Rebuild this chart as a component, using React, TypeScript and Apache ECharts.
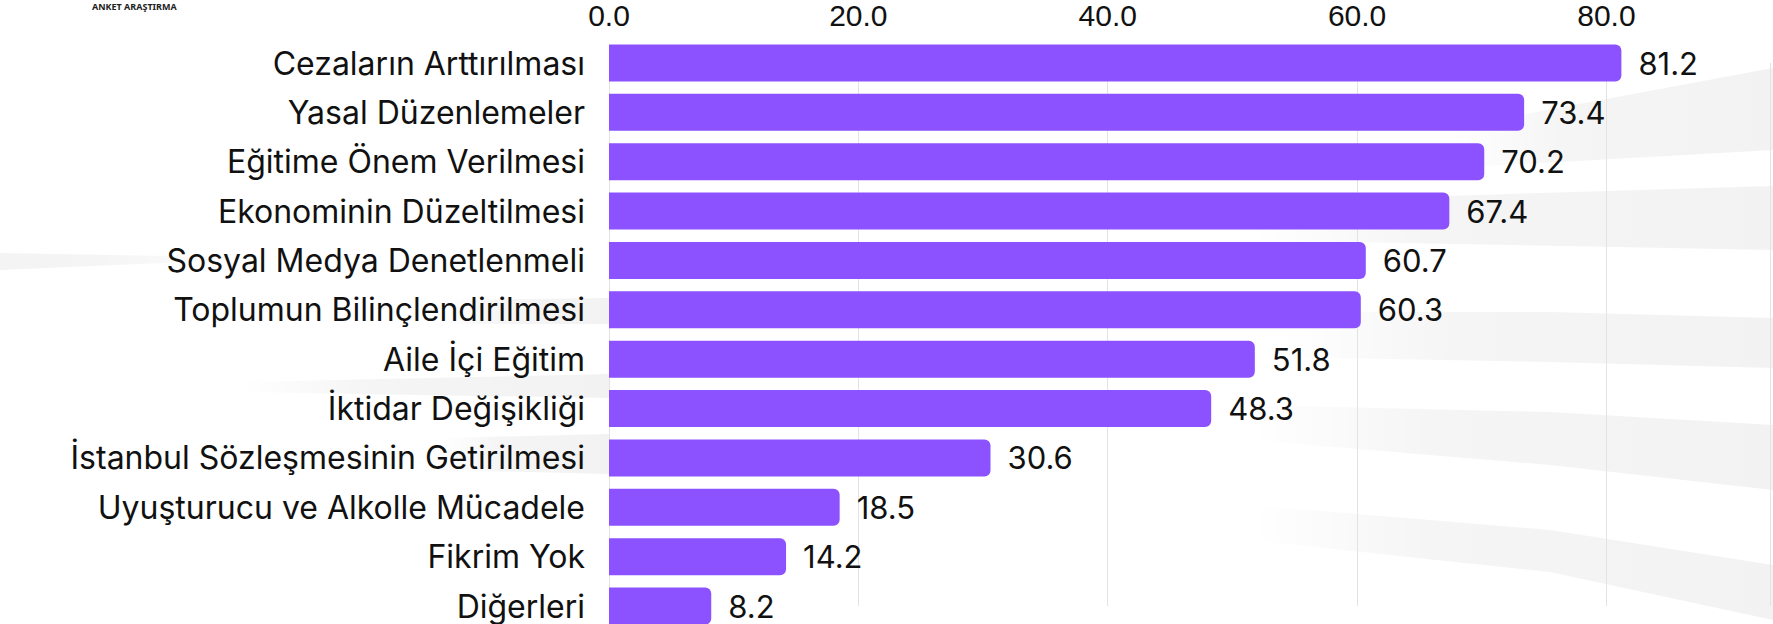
import React, { useEffect, useRef } from "react";
import * as echarts from "echarts";

const categories = [
  "Cezaların Arttırılması",
  "Yasal Düzenlemeler",
  "Eğitime Önem Verilmesi",
  "Ekonominin Düzeltilmesi",
  "Sosyal Medya Denetlenmeli",
  "Toplumun Bilinçlendirilmesi",
  "Aile İçi Eğitim",
  "İktidar Değişikliği",
  "İstanbul Sözleşmesinin Getirilmesi",
  "Uyuşturucu ve Alkolle Mücadele",
  "Fikrim Yok",
  "Diğerleri",
];
const values = [81.2, 73.4, 70.2, 67.4, 60.7, 60.3, 51.8, 48.3, 30.6, 18.5, 14.2, 8.2];
const axisMin = 0;
const axisMax = 93.12;
const axisInterval = 20;

const FONT = "Inter";
const NUM_FONT = "'Liberation Sans', Arial";

export default function App() {
  const ref = useRef<HTMLDivElement>(null);
  useEffect(() => {
    if (!ref.current) return;
    const chart = echarts.init(ref.current, null, { renderer: "svg" });
    const band = (pts: number[][], fromRight = true) => ({
      type: "polygon",
      z: -10,
      silent: true,
      shape: { points: pts },
      style: {
        fill: new echarts.graphic.LinearGradient(0, 0, 1, 0, [
          { offset: 0, color: fromRight ? "rgba(0,0,0,0.0)" : "rgba(0,0,0,0.045)" },
          { offset: 0.35, color: "rgba(0,0,0,0.04)" },
          { offset: 1, color: fromRight ? "rgba(0,0,0,0.05)" : "rgba(0,0,0,0.0)" },
        ]),
      },
    });
    chart.setOption({
      animation: false,
      backgroundColor: "#ffffff",
      graphic: [
        band([[1450, 128], [1773, 68], [1773, 150], [1450, 168]]),
        band([[1250, 202], [1773, 186], [1773, 250], [1250, 240]]),
        band([[1280, 312], [1550, 312], [1773, 318], [1773, 368], [1550, 362], [1280, 357]]),
        band([[1250, 405], [1550, 412], [1773, 425], [1773, 490], [1550, 465], [1250, 440]]),
        band([[1250, 505], [1550, 530], [1773, 565], [1773, 620], [1550, 572], [1250, 540]]),
        band([[0, 253], [280, 258], [0, 270]], false),
        band([[440, 300], [609, 298], [609, 324], [440, 324]]),
        band([[240, 382], [609, 374], [609, 398], [240, 392]]),
        band([[440, 438], [609, 434], [609, 474], [440, 470]]),
        {
          type: "text",
          left: 92,
          top: 2,
          z: 10,
          style: {
            text: "ANKET ARAŞTIRMA",
            fill: "#222222",
            font: "bold 9px 'Noto Sans'",
          },
        },
      ],
      grid: {
        left: 609,
        top: 63,
        right: 0,
        bottom: 18,
        containLabel: false,
      },
      xAxis: {
        type: "value",
        position: "top",
        min: axisMin,
        max: axisMax,
        interval: axisInterval,
        axisLine: { show: false },
        axisTick: { show: false },
        splitLine: { show: true, lineStyle: { color: "#e3e3e3", width: 1 } },
        axisLabel: {
          formatter: (v: number) => (v % axisInterval === 0 ? v.toFixed(1) : ""),
          fontFamily: NUM_FONT,
          fontSize: 30,
          color: "#111111",
          margin: 33,
        },
      },
      yAxis: {
        type: "category",
        data: categories,
        inverse: true,
        boundaryGap: false,
        axisLine: { show: false },
        axisTick: { show: false },
        splitLine: { show: false },
        axisLabel: {
          fontFamily: FONT,
          fontSize: 32,
          color: "#111111",
          margin: 24,
        },
      },
      series: [
        {
          type: "bar",
          data: values,
          barWidth: 37,
          itemStyle: { color: "#8C52FF", borderRadius: [0, 6, 6, 0] },
          label: {
            show: true,
            position: "right",
            distance: 17,
            formatter: (p: any) => Number(p.value).toFixed(1),
            fontFamily: FONT,
            fontSize: 31,
            color: "#111111",
          },
        },
      ],
    });
    return () => chart.dispose();
  }, []);
  return (
    <div
      ref={ref}
      style={{ position: "fixed", left: 0, top: 0, width: 1773, height: 624 }}
    />
  );
}
